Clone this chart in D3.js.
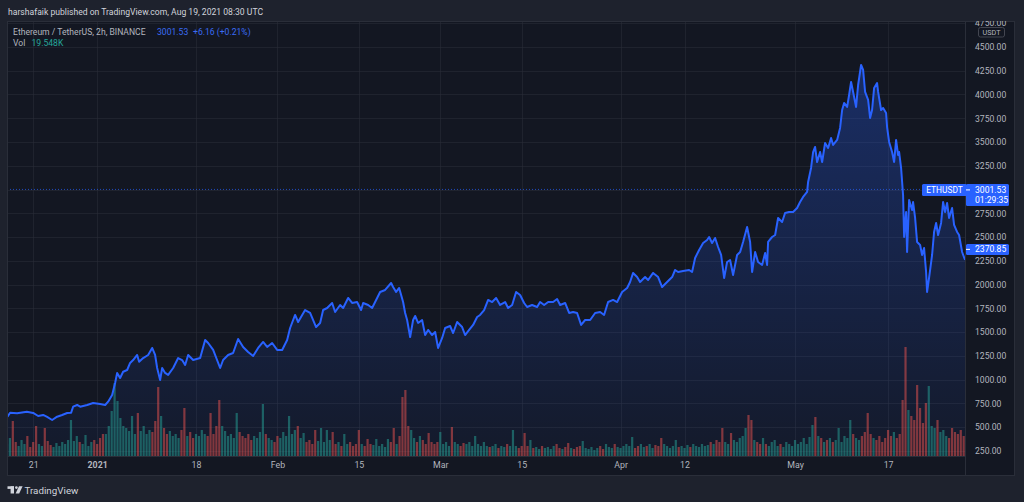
<!DOCTYPE html>
<html><head><meta charset="utf-8">
<script src="https://cdn.jsdelivr.net/npm/d3@7"></script>
<style>
html,body{margin:0;padding:0;background:#1e222d;overflow:hidden;}
svg{display:block;}
text{font-family:Roboto,"Noto Sans",sans-serif;}
</style></head><body>
<svg id="chart" width="1024" height="502"></svg>
<script>
// ---- DATA ----
// price samples: day offsets relative to 2021-01-01 00:00 UTC, and ETH/USDT price
const priceDays = [-15.42,-14.96,-13.76,-12.09,-11.0,-10.14,-9.28,-8.6,-7.74,-6.88,-6.02,-5.16,-4.47,-4.13,-3.44,-2.92,-1.72,-0.69,0.52,1.38,1.89,2.58,3.09,3.44,3.95,4.47,5.16,5.67,6.19,6.88,7.22,7.91,8.77,9.46,9.97,10.32,10.83,11.18,11.69,12.21,13.07,13.93,14.61,15.13,15.65,16.51,17.71,18.57,19.09,19.95,21.15,21.66,22.52,23.38,24.24,25.1,25.96,26.82,27.68,28.54,29.23,30.09,30.95,31.81,32.67,33.18,34.04,34.56,35.76,36.62,37.65,38.34,38.86,39.55,40.41,40.92,41.78,42.3,43.16,43.84,44.7,45.39,45.74,46.6,47.28,47.8,48.66,49.52,50.55,50.89,51.41,51.93,52.61,52.96,53.3,53.82,54.33,54.68,55.19,55.88,56.4,56.91,57.6,58.12,58.63,59.32,59.84,60.69,61.21,61.9,62.76,63.27,63.96,64.65,65.34,65.85,66.54,67.23,67.92,68.6,69.29,70.15,70.67,71.36,72.04,72.73,73.42,73.93,74.79,75.65,76.17,76.86,77.55,78.4,79.09,79.61,80.47,81.16,81.84,82.53,83.22,83.91,84.77,85.63,86.49,87.17,87.86,88.72,89.41,90.27,91.13,91.64,92.16,92.85,93.36,94.22,94.74,95.6,96.46,97.15,98.01,98.87,99.38,99.9,100.76,101.79,102.3,102.82,103.51,104.2,104.88,105.23,105.74,106.26,106.77,107.29,107.81,108.32,108.84,109.35,110.04,110.56,111.07,111.76,112.28,112.62,113.14,113.65,114.34,114.86,115.2,115.37,116.06,116.58,117.09,117.78,118.29,118.98,119.67,120.36,120.87,121.39,122.08,122.25,122.76,123.11,123.45,123.8,124.31,124.66,125.17,125.69,126.2,126.55,127.24,127.75,128.1,128.44,128.96,129.3,129.64,129.99,130.5,130.85,131.36,131.71,132.05,132.57,132.91,133.25,133.6,134.11,134.29,134.8,135.15,135.66,135.83,136.18,136.69,137.04,137.38,137.72,137.9,138.24,138.58,138.76,139.1,139.27,139.62,140.13,140.3,140.65,140.99,141.51,141.85,142.19,142.54,142.71,143.05,143.57,143.91,144.26,144.6,145.12,145.46,145.8,146.15,146.49,147.01,147.35,147.87,148.21,148.73,149.24];
const prices = [611,653,647,663,650,618,629,608,576,611,629,650,653,716,734,716,734,755,744,734,769,839,965,1071,1018,1084,1102,1176,1207,1260,1189,1228,1260,1334,1260,1123,997,1123,1071,1050,1123,1228,1207,1155,1260,1207,1228,1418,1386,1313,1123,1207,1260,1281,1428,1344,1291,1249,1334,1397,1344,1386,1313,1313,1418,1544,1681,1607,1733,1702,1554,1597,1733,1754,1807,1712,1786,1754,1860,1807,1817,1733,1807,1786,1754,1817,1923,1944,2017,1975,1923,1965,1817,1702,1628,1449,1628,1670,1597,1628,1470,1523,1470,1502,1334,1439,1544,1565,1491,1607,1554,1470,1523,1576,1660,1681,1733,1839,1817,1860,1786,1817,1754,1786,1923,1891,1807,1765,1786,1765,1817,1786,1817,1817,1849,1786,1807,1702,1712,1702,1576,1628,1628,1702,1712,1681,1817,1839,1817,1923,1965,2028,2123,2080,2028,2080,2049,2123,2080,1975,2028,2080,2154,2133,2144,2154,2133,2280,2365,2438,2470,2501,2438,2491,2396,2312,2070,2238,2259,2102,2312,2343,2449,2606,2449,2133,2343,2238,2207,2333,2207,2449,2501,2522,2701,2659,2754,2764,2764,2806,2869,2922,2975,3080,3227,3395,3448,3290,3395,3290,3490,3438,3543,3469,3522,3648,3837,3911,3869,3995,4132,4027,3869,4100,4311,4258,4027,3943,3753,3837,4069,4121,4027,3837,3858,3806,3658,3501,3395,3290,3522,3364,3395,3227,2943,2501,2764,2343,2891,2785,2869,2701,2449,2417,2312,2386,2133,1923,2070,2312,2554,2649,2522,2649,2869,2764,2859,2701,2806,2628,2554,2522,2343,2259];
// volume (K), one bar every 12 hours starting at day volStartDay
const volStartDay = -15.5;
const volStepDays = 0.5;
const volumes = [12,18,35,14,10,16,12,20,9,14,30,
12,10,28,15,11,9,13,10,14,12,16,36,
15,20,14,12,21,10,14,16,12,18,22,
22,30,45,73,55,38,30,
28,25,40,22,43,25,30,22,26,24,35,69,
40,28,22,25,20,22,18,26,48,20,24,18,22,
20,26,22,20,43,22,30,56,30,25,20,22,18,43,24,
20,18,22,16,20,18,24,52,22,18,16,14,20,18,24,20,40,22,26,30,
18,23,14,16,12,26,15,28,14,26,16,24,12,14,10,22,12,14,10,12,26,12,10,17,12,11,17,10,12,9,17,14,28,12,20,59,66,30,
26,18,14,20,16,12,23,14,12,14,24,12,14,10,29,14,12,10,13,12,14,10,20,12,10,14,10,9,10,12,8,10,9,12,10,26,10,
8,10,23,10,16,8,9,7,10,8,9,7,10,12,8,7,9,13,8,7,9,10,15,8,7,9,6,8,10,7,12,9,8,12,9,
8,10,12,10,19,8,10,12,9,10,12,8,11,10,18,12,10,8,10,16,9,10,8,11,9,12,10,9,12,10,11,14,12,16,14,
28,14,12,23,16,14,18,20,28,41,36,16,14,12,18,
12,10,14,16,10,12,9,14,12,10,16,12,14,18,12,
19,31,39,20,18,14,16,18,14,16,28,14,20,18,36,22,18,16,20,24,
43,22,18,16,20,14,18,26,20,24,18,22,56,109,46,
40,36,71,48,33,53,70,30,28,36,24,26,20,18,28,24,22,26,20];
const priceTicks = [250,500,750,1000,1250,1500,1750,2000,2250,2500,2750,3000,3250,3500,3750,4000,4250,4500,4750];
const timeTickDates = ["2020-12-21","2021-01-01","2021-01-18","2021-02-01","2021-02-15","2021-03-01","2021-03-15","2021-04-01","2021-04-12","2021-05-01","2021-05-17"];
const timeTickLabels = ["21","2021","18","Feb","15","Mar","15","Apr","12","May","17"];
const symbolName = "Ethereum / TetherUS, 2h, BINANCE";
const lastPrice = 3001.53, lastChange = "+6.16 (+0.21%)", lastVol = "19.548K";
const countdown = "01:29:35", seriesLast = 2370.85;
const headerText = "harshafaik published on TradingView.com, Aug 19, 2021 08:30 UTC";

// ---- SETUP ----
const DAY = 864e5, base = Date.UTC(2021,0,1);
const toDate = d => new Date(base + d*DAY);
const plot = {l:7, r:965, t:21, b:456};
const panel = {l:7, r:1015, t:21, b:476};
const C = {bg:"#1e222d", pane:"#131722", border:"#2a2e39", grid:"rgba(42,46,57,0.55)",
  text:"#b2b5be", head:"#d1d4dc", blue:"#2962ff", up:"rgba(38,166,154,0.5)", down:"rgba(239,83,80,0.5)"};

const svg = d3.select("#chart");
const defs = svg.append("defs");
defs.append("clipPath").attr("id","plotClip").append("rect")
  .attr("x",plot.l).attr("y",plot.t).attr("width",plot.r-plot.l).attr("height",plot.b-plot.t);
defs.append("clipPath").attr("id","axisClip").append("rect")
  .attr("x",plot.r).attr("y",plot.t).attr("width",panel.r-plot.r).attr("height",plot.b-plot.t);

const data = priceDays.map((d,i)=>({t:toDate(d), day:d, p:prices[i]}));
const x = d3.scaleTime().domain([toDate(-15.5), toDate(149.4)]).range([plot.l, 966]);
const y = d3.scaleLinear().domain([250,4750]).range([451, 23.2]);
const yVol = d3.scaleLinear().domain([0, d3.max(volumes)]).range([plot.b, plot.b-109]);

svg.append("rect").attr("width",1024).attr("height",502).attr("fill",C.bg);
svg.append("rect").attr("x",panel.l).attr("y",panel.t).attr("width",panel.r-panel.l).attr("height",panel.b-panel.t)
  .attr("fill",C.pane);

// grid
const grid = svg.append("g").attr("clip-path","url(#plotClip)");
grid.selectAll("line.h").data(priceTicks).join("line")
  .attr("x1",plot.l).attr("x2",plot.r).attr("y1",d=>Math.round(y(d))+0.5).attr("y2",d=>Math.round(y(d))+0.5)
  .attr("stroke",C.grid);
const tickDates = timeTickDates.map(s=>new Date(s+"T00:00:00Z"));
grid.selectAll("line.v").data(tickDates).join("line")
  .attr("y1",plot.t).attr("y2",plot.b).attr("x1",d=>Math.round(x(d))+0.5).attr("x2",d=>Math.round(x(d))+0.5)
  .attr("stroke",C.grid);

// area gradient
const grad = defs.append("linearGradient").attr("id","areaGrad").attr("gradientUnits","userSpaceOnUse")
  .attr("x1",0).attr("x2",0).attr("y1",y(d3.max(prices))).attr("y2",plot.b);
grad.append("stop").attr("offset",0).attr("stop-color","rgba(41,98,255,0.30)");
grad.append("stop").attr("offset",1).attr("stop-color","rgba(41,98,255,0.04)");

const g = svg.append("g").attr("clip-path","url(#plotClip)");
g.append("path").datum(data).attr("fill","url(#areaGrad)")
  .attr("d", d3.area().x(d=>x(d.t)).y0(plot.b).y1(d=>y(d.p)));

// volume
const bis = d3.bisector(d=>d.day).left;
function priceAt(day){
  if(day<=priceDays[0]) return prices[0];
  if(day>=priceDays[priceDays.length-1]) return prices[prices.length-1];
  const i = bis(data, day); const a=data[i-1], b=data[i];
  return a.p + (b.p-a.p)*(day-a.day)/(b.day-a.day);
}
g.append("g").selectAll("rect").data(volumes).join("rect")
  .attr("x",(v,i)=>x(toDate(volStartDay+i*volStepDays))-1.1)
  .attr("width",2.2)
  .attr("y",v=>yVol(v)).attr("height",v=>plot.b-yVol(v))
  .attr("fill",(v,i)=>{const t=volStartDay+i*volStepDays; return priceAt(t+0.25)>=priceAt(t-0.25)?C.up:C.down;});

// price line
g.append("path").datum(data).attr("fill","none").attr("stroke",C.blue).attr("stroke-width",2)
  .attr("stroke-linejoin","round")
  .attr("d", d3.line().x(d=>x(d.t)).y(d=>y(d.p)));

// last price dotted line
const yl = y(lastPrice);
svg.append("line").attr("x1",plot.l).attr("x2",922).attr("y1",yl).attr("y2",yl)
  .attr("stroke",C.blue).attr("stroke-opacity",0.7).attr("stroke-dasharray","1,2");

// borders
svg.append("line").attr("x1",plot.r+0.5).attr("x2",plot.r+0.5).attr("y1",panel.t).attr("y2",panel.b).attr("stroke",C.border);
svg.append("line").attr("x1",panel.l).attr("x2",plot.r).attr("y1",plot.b+0.5).attr("y2",plot.b+0.5).attr("stroke",C.border);
svg.append("rect").attr("x",panel.l+0.5).attr("y",panel.t+0.5).attr("width",panel.r-panel.l-1).attr("height",panel.b-panel.t-1)
  .attr("fill","none").attr("stroke",C.border);

// price axis
const ya = svg.append("g").attr("clip-path","url(#axisClip)").append("g").attr("transform",`translate(${plot.r},0)`)
  .call(d3.axisRight(y).tickValues(priceTicks).tickSize(0).tickPadding(10).tickFormat(d=>d.toFixed(2)));
ya.select(".domain").remove();
ya.selectAll("text").attr("fill",C.text).attr("font-size",8.6).attr("font-family","Roboto");

// time axis
const xa = svg.append("g").attr("transform",`translate(0,${plot.b})`)
  .call(d3.axisBottom(x).tickValues(tickDates).tickSize(0).tickPadding(6).tickFormat((d,i)=>timeTickLabels[i]));
xa.select(".domain").remove();
xa.selectAll("text").attr("fill",C.text).attr("font-size",8.8).attr("font-family","Roboto")
  .attr("font-weight",(d,i)=>timeTickLabels[i]==="2021"?"bold":"normal");

// USDT box
svg.append("rect").attr("x",978.5).attr("y",27.5).attr("width",26).attr("height",9.5).attr("rx",2)
  .attr("fill",C.pane).attr("stroke","#434651");
svg.append("text").attr("x",991.5).attr("y",32.4).attr("text-anchor","middle").attr("dominant-baseline","central")
  .attr("font-size",7.2).attr("fill",C.text).text("USDT");

// last price labels
svg.append("rect").attr("x",922).attr("y",yl-5.5).attr("width",45).attr("height",12).attr("rx",1.5).attr("fill",C.blue);
svg.append("text").attr("x",944.5).attr("y",yl+0.5).attr("text-anchor","middle").attr("dominant-baseline","central")
  .attr("font-size",8.4).attr("fill","#fff").text("ETHUSDT");
svg.append("rect").attr("x",966).attr("y",yl-5.5).attr("width",43).attr("height",22).attr("rx",1.5).attr("fill",C.blue);
svg.append("line").attr("x1",966).attr("x2",970).attr("y1",yl+0.5).attr("y2",yl+0.5).attr("stroke","#fff");
svg.append("text").attr("x",975).attr("y",yl+0.5).attr("dominant-baseline","central")
  .attr("font-size",8.6).attr("fill","#fff").text(lastPrice.toFixed(2));
svg.append("text").attr("x",975).attr("y",yl+11).attr("dominant-baseline","central")
  .attr("font-size",8.6).attr("fill","#fff").text(countdown);
const ys = y(seriesLast);
svg.append("rect").attr("x",966).attr("y",ys-5.5).attr("width",43).attr("height",11).attr("rx",1.5).attr("fill",C.blue);
svg.append("line").attr("x1",966).attr("x2",970).attr("y1",ys).attr("y2",ys).attr("stroke","#fff");
svg.append("text").attr("x",975).attr("y",ys).attr("dominant-baseline","central")
  .attr("font-size",8.6).attr("fill","#fff").text(seriesLast.toFixed(2));

// header + legend
svg.append("text").attr("x",8).attr("y",11.7).attr("dominant-baseline","central")
  .attr("font-size",8.6).attr("fill",C.head).text(headerText);
svg.append("text").attr("x",13).attr("y",31.7).attr("dominant-baseline","central")
  .attr("font-size",8.6).attr("fill",C.text).text(symbolName);
svg.append("text").attr("x",157).attr("y",31.7).attr("dominant-baseline","central")
  .attr("font-size",8.6).attr("fill","#3a6cf4").text(lastPrice.toFixed(2));
svg.append("text").attr("x",193).attr("y",31.7).attr("dominant-baseline","central")
  .attr("font-size",8.6).attr("fill","#3a6cf4").text(lastChange);
svg.append("text").attr("x",13).attr("y",43.3).attr("dominant-baseline","central")
  .attr("font-size",8.6).attr("fill",C.text).text("Vol");
svg.append("text").attr("x",31.5).attr("y",43.3).attr("dominant-baseline","central")
  .attr("font-size",8.6).attr("fill","#26a69a").text(lastVol);

// TradingView logo
const logo = svg.append("g").attr("fill",C.head);
logo.append("rect").attr("x",7.5).attr("y",486.3).attr("width",6.5).attr("height",2.6);
logo.append("rect").attr("x",10.6).attr("y",486.3).attr("width",3.4).attr("height",7.2);
logo.append("circle").attr("cx",16.4).attr("cy",487.6).attr("r",1.35);
logo.append("polygon").attr("points","19,486.3 22.6,486.3 19.2,493.5 15.6,493.5");
svg.append("text").attr("x",24.5).attr("y",490).attr("dominant-baseline","central")
  .attr("font-size",9.8).attr("fill",C.head).text("TradingView");
</script>
</body></html>
